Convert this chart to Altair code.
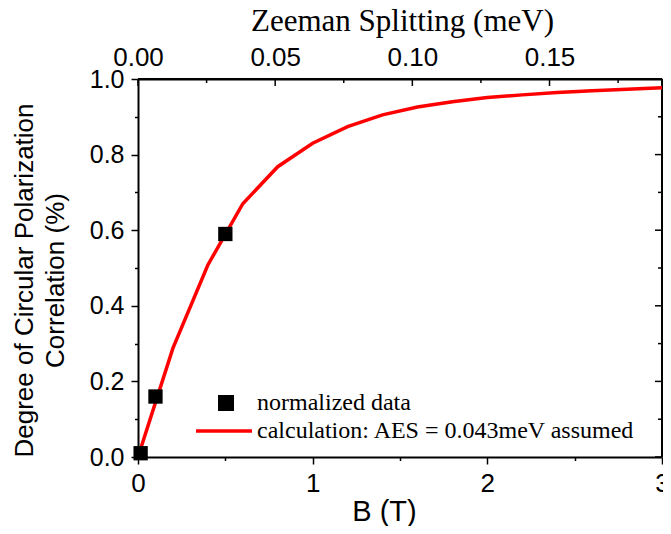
import altair as alt
import pandas as pd

# ---- data ----
B_calc = [0.0, 0.2, 0.4, 0.6, 0.8, 1.0, 1.2, 1.4, 1.6, 1.8, 2.0, 2.2, 2.4, 2.6, 2.8, 3.0]
P_calc = [0.0, 0.288, 0.508, 0.67, 0.768, 0.83, 0.874, 0.905, 0.926, 0.94, 0.951, 0.958, 0.964, 0.969, 0.973, 0.977]
B_data = [0.015, 0.1, 0.5]
P_data = [0.01, 0.16, 0.59]
calc_label = "calculation: AES = 0.043meV assumed"
data_label = "normalized data"

x_ticks = [0, 0.5, 1, 1.5, 2, 2.5, 3]
y_ticks = [0.0, 0.1, 0.2, 0.3, 0.4, 0.5, 0.6, 0.7, 0.8, 0.9, 1.0]
y_major = [0.0, 0.2, 0.4, 0.6, 0.8, 1.0]
y_minor = [0.1, 0.3, 0.5, 0.7, 0.9]
top_major = [0.0, 0.05, 0.10, 0.15]
top_minor = [0.025, 0.075, 0.125, 0.175]
mev_at_3T = 0.191
mev_range = [0.0, mev_at_3T]
y_range = [0.0, 1.0]
b_range = [0.0, 3.0]

W, H = 524, 378
SANS = "Liberation Sans"
SERIF = "Liberation Serif"
NB = "\u00a0"
MEV_PER_T = mev_at_3T / b_range[1]

calc_df = pd.DataFrame({"B": B_calc, "P": P_calc, "series": calc_label})
data_df = pd.DataFrame({"B": B_data, "P": P_data, "series": data_label})
mev_df = pd.DataFrame({"meV": mev_range})

# frame lines and inward ticks, placed through the same scales
right_df = pd.DataFrame({"B": [b_range[1]]})
top_df = pd.DataFrame({"P": [y_range[1]]})
top_major_df = pd.DataFrame({"B": [v / MEV_PER_T for v in top_major], "P": y_range[1]})
top_minor_df = pd.DataFrame({"B": [v / MEV_PER_T for v in top_minor], "P": y_range[1]})
right_major_df = pd.DataFrame({"B": b_range[1], "P": y_major})
right_minor_df = pd.DataFrame({"B": b_range[1], "P": y_minor})

xscale = alt.Scale(domain=b_range, nice=False, zero=False)
yscale = alt.Scale(domain=y_range, nice=False)
mscale = alt.Scale(domain=mev_range, nice=False)

common = dict(domainColor="black", domainWidth=2, tickColor="black", tickWidth=1.5,
              labelColor="black", titleColor="black", labelFlush=False,
              labelOverlap=False, labelBound=False, grid=False)

x_axis = alt.Axis(orient="bottom", values=x_ticks,
                  labelExpr="datum.value % 1 === 0 ? format(datum.value, 'd') : ''",
                  tickSize={"condition": {"test": "datum.value % 1 !== 0", "value": 3.5}, "value": 7},
                  labelFont=SANS, labelFontSize=26, labelBaseline="alphabetic", labelPadding=27,
                  titleFont=SANS, titleFontSize=29, titleFontWeight="normal",
                  titleBaseline="alphabetic", titleX=246, titleY=63, **common)

y_axis = alt.Axis(orient="left", values=y_ticks,
                  labelExpr="round(datum.value * 10) % 2 === 0 ? format(datum.value, '.1f') : ''",
                  tickSize={"condition": {"test": "round(datum.value * 10) % 2 === 1", "value": 3.5}, "value": 7},
                  labelFont=SANS, labelFontSize=25, labelPadding=7,
                  titleFont=SANS, titleFontSize=26, titleFontWeight="normal",
                  titleAngle=-90, titleBaseline="alphabetic", titleAlign="center",
                  titleX=-106, titleY=201, titleLineHeight=31, **common)

x_title = "B (T)"
y_title = ["Degree of Circular Polarization", "Correlation (%)" + NB * 7]


def X():
    return alt.X("B:Q", scale=xscale, axis=x_axis, title=x_title)


def Y():
    return alt.Y("P:Q", scale=yscale, axis=y_axis, title=y_title)


leg_line = alt.Legend(title=None, orient="none", legendX=56, legendY=322, padding=0,
                      labelFont=SERIF, labelFontSize=24, labelColor="black", labelLimit=600,
                      symbolType="stroke", symbolSize=3136, symbolStrokeWidth=3.5,
                      labelOffset=3)
leg_pts = alt.Legend(title=None, orient="none", legendX=76, legendY=312, padding=0,
                     labelFont=SERIF, labelFontSize=24, labelColor="black", labelLimit=600,
                     symbolType="square", symbolSize=256, symbolFillColor="black",
                     symbolStrokeColor="black", symbolStrokeWidth=0, symbolOpacity=1,
                     labelOffset=19)

right_line = alt.Chart(right_df).mark_rule(color="black", strokeWidth=2).encode(x=X())
top_line = alt.Chart(top_df).mark_rule(color="black", strokeWidth=2).encode(y=Y())

top_major_ticks = alt.Chart(top_major_df).mark_tick(
    orient="vertical", size=7, thickness=1.5, color="black", opacity=1, yOffset=3.5
).encode(x=X(), y=Y())
top_minor_ticks = alt.Chart(top_minor_df).mark_tick(
    orient="vertical", size=4, thickness=1.5, color="black", opacity=1, yOffset=2
).encode(x=X(), y=Y())
right_major_ticks = alt.Chart(right_major_df).mark_tick(
    orient="horizontal", size=7, thickness=1.5, color="black", opacity=1, xOffset=-3.5
).encode(x=X(), y=Y())
right_minor_ticks = alt.Chart(right_minor_df).mark_tick(
    orient="horizontal", size=4, thickness=1.5, color="black", opacity=1, xOffset=-2
).encode(x=X(), y=Y())

line = alt.Chart(calc_df).mark_line(strokeWidth=3.5).encode(
    x=X(), y=Y(),
    stroke=alt.Stroke("series:N", scale=alt.Scale(range=["#ff0000"]), legend=leg_line),
)

pts = alt.Chart(data_df).mark_point(filled=True, fill="black", opacity=1, size=205, strokeWidth=0).encode(
    x=X(), y=Y(),
    shape=alt.Shape("series:N", scale=alt.Scale(range=["square"]), legend=leg_pts),
)

main = alt.layer(right_line, top_line, top_major_ticks, top_minor_ticks,
                 right_major_ticks, right_minor_ticks, line, pts)

# top axis (Zeeman splitting): labels and title only, on its own scale
top_axis = alt.Axis(orient="top", values=top_major, format=".2f",
                    ticks=False, domain=True,
                    labelFont=SANS, labelFontSize=26, labelBaseline="alphabetic",
                    labelPadding=13.5, titleFont=SERIF, titleFontSize=31, titleFontWeight="normal",
                    titleBaseline="alphabetic", titleX=264, titleY=-49, **common)

top_layer = alt.Chart(mev_df).mark_point(opacity=0).encode(
    x=alt.X("meV:Q", scale=mscale, axis=top_axis, title="Zeeman Splitting (meV)"),
)

chart = alt.layer(main, top_layer).resolve_scale(
    x="independent", y="independent"
).properties(
    width=W, height=H,
    autosize=alt.AutoSizeParams(type="none"),
    padding={"left": 130, "top": 71, "right": 1, "bottom": 69},
    background="white",
).configure_view(stroke=None)

chart.save("out.html", embed_options={"renderer": "svg", "actions": False})
